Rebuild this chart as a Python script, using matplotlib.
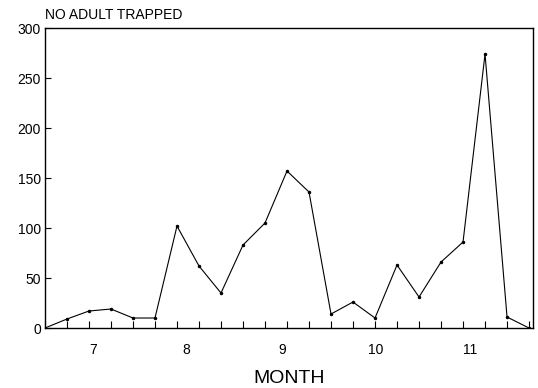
import numpy as np
import matplotlib.pyplot as plt

plt.rcParams['font.family'] = ['Liberation Sans', 'DejaVu Sans']

# weekly catches (week index from start of July)
weeks = np.arange(23)
adults = [0, 9, 17, 19, 10, 10, 102, 62, 35, 83, 105, 157, 136,
          14, 26, 10, 63, 31, 66, 86, 274, 11, 0]

month_pos = [2.2, 6.4, 10.8, 15.05, 19.3]
month_labels = ['7', '8', '9', '10', '11']
y_ticks = [0, 50, 100, 150, 200, 250, 300]

fig = plt.figure(figsize=(5.38, 3.88), dpi=100)
ax = fig.add_axes([0.0836, 0.1546, 0.9071, 0.7732])

ax.plot(weeks, adults, color='black', linewidth=0.8,
        marker='o', markersize=1.5)

ax.set_xlim(0, 22.18)
ax.set_ylim(0, 300)

# weekly ticks without labels, month labels between them
ax.set_xticks(weeks)
ax.set_xticklabels([''] * len(weeks))
ax.set_xticks(month_pos, month_labels, minor=True)
ax.tick_params(axis='x', which='major', direction='in', length=5, width=0.8)
ax.tick_params(axis='x', which='minor', length=0, pad=11, labelsize=10)

ax.set_yticks(y_ticks)
ax.tick_params(axis='y', direction='in', length=4, width=0.8, pad=3, labelsize=10)

for s in ax.spines.values():
    s.set_linewidth(1.0)

ax.set_xlabel('MONTH', fontsize=14, labelpad=9)
fig.text(0.0836, 0.962, 'NO ADULT TRAPPED', fontsize=10, ha='left', va='center')

fig.savefig('out.png', dpi=100)
